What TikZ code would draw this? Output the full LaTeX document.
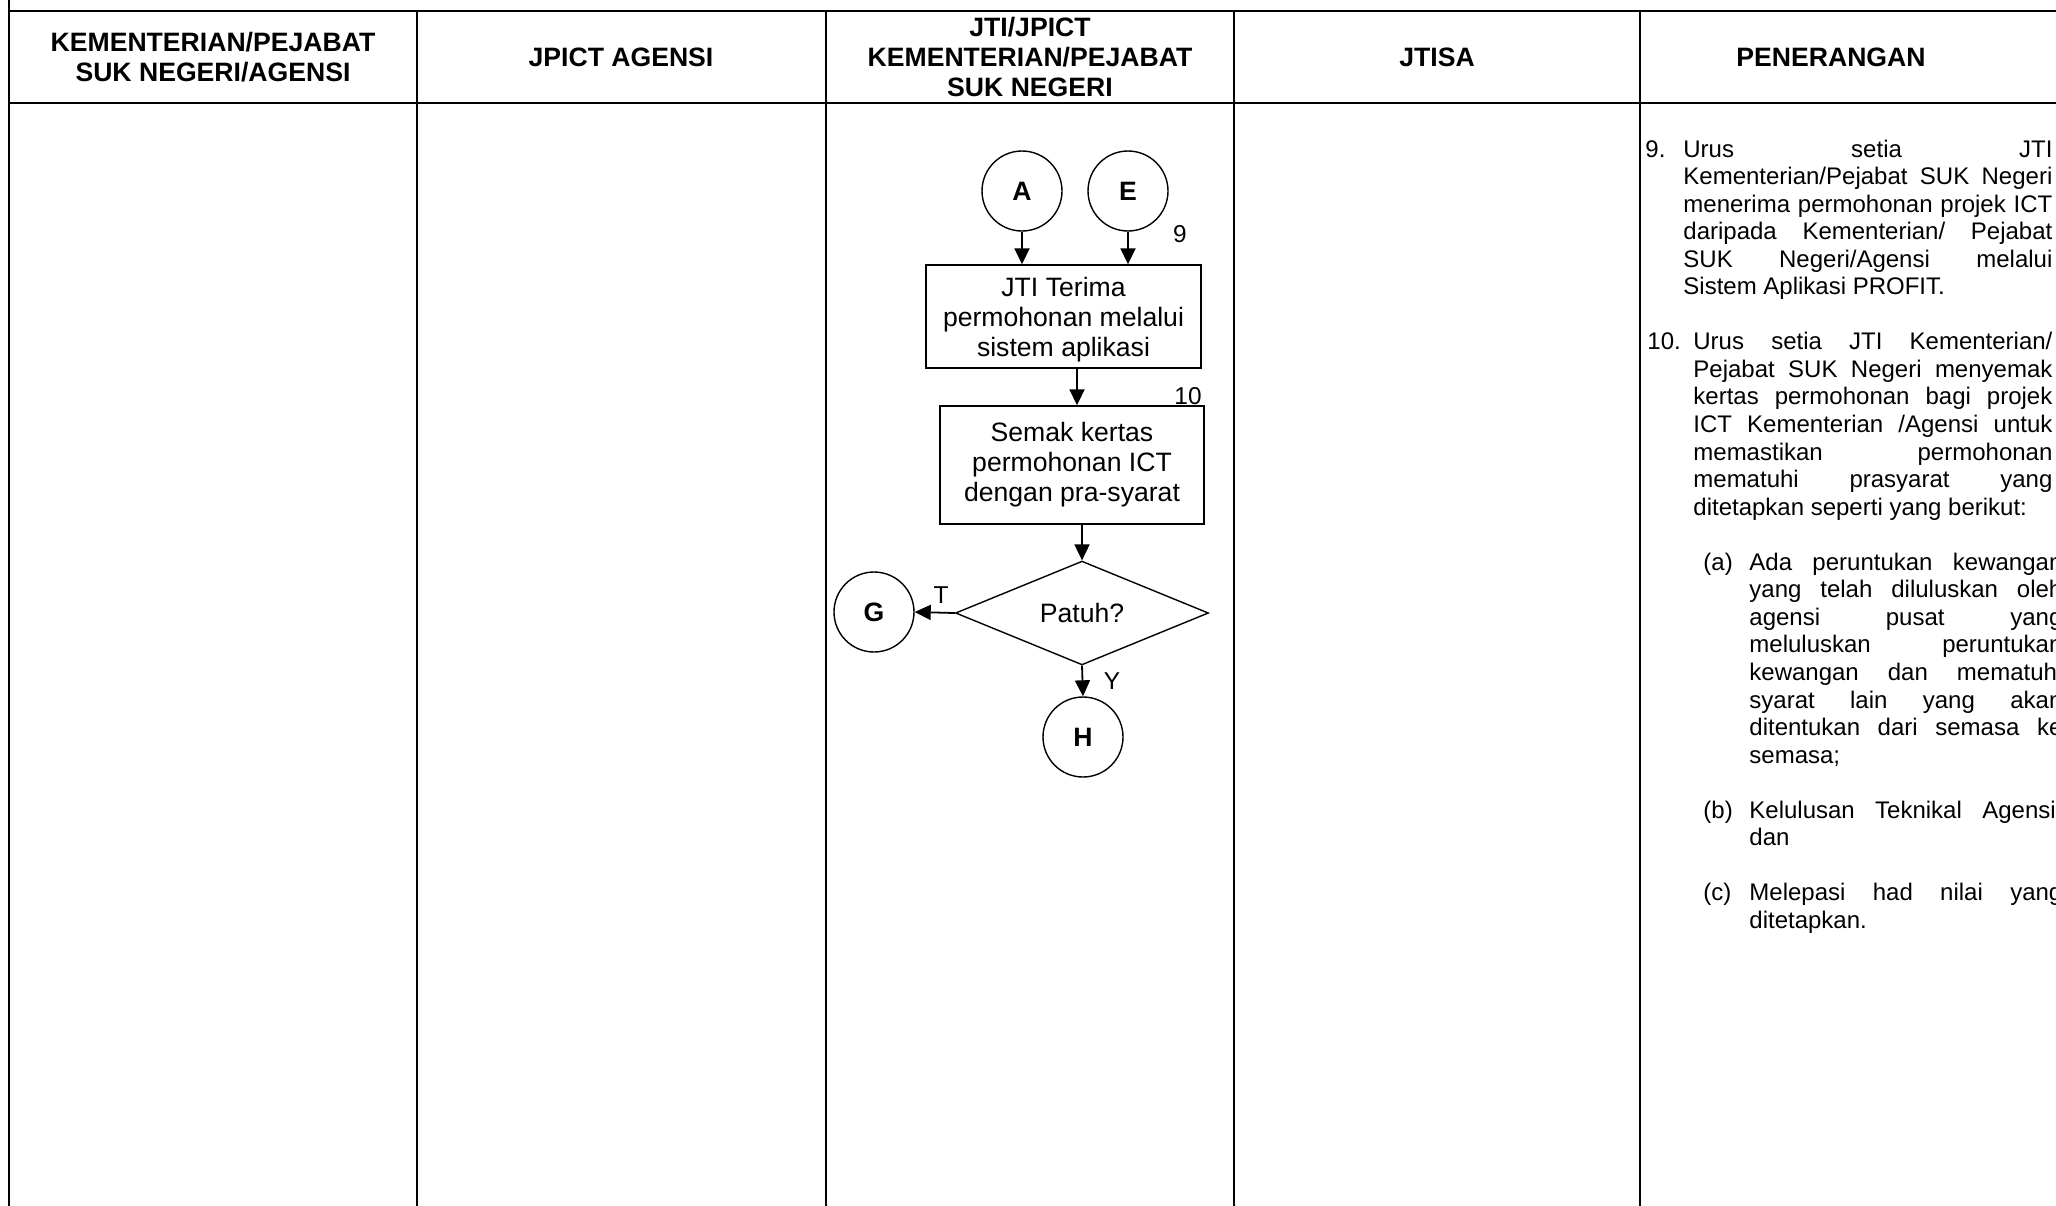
\documentclass[tikz,border=0pt]{standalone}
\usepackage{fontspec}
\setmainfont{Liberation Sans}
\usetikzlibrary{arrows.meta,shapes.geometric}
\newcommand{\wnine}{184.5pt}
\newcommand{\wten}{179.5pt}
\newcommand{\wsub}{156.5pt}
\begin{document}
\begin{tikzpicture}[x=0.5pt,y=-0.5pt,
  hline/.style={line width=1.3pt},
  vline/.style={line width=0.9pt},
  hdr/.style={font=\fontsize{13.3}{15.2}\selectfont\bfseries, align=center, inner sep=0},
  pen/.style={font=\fontsize{12}{13.775}\selectfont, inner sep=0, anchor=base west},
  procbox/.style={draw, line width=0.7pt, font=\fontsize{13.3}{15}\selectfont, align=center, inner sep=0},
  conn/.style={draw, circle, line width=0.7pt, minimum size=40pt, inner sep=0, font=\fontsize{13.3}{15}\selectfont\bfseries},
  dec/.style={diamond, draw, line width=0.7pt, minimum width=126.5pt, minimum height=51pt, inner sep=0, font=\fontsize{13.3}{15}\selectfont},
  lbl/.style={font=\fontsize{12.2}{13}\selectfont, inner sep=0},
  arr/.style={-{Triangle[length=8pt,width=7.5pt]}, line width=0.9pt}]
\useasboundingbox (0,0) rectangle (2056,1205);
\begin{scope}
\clip (0,0) rectangle (2056,1205);
% table lines
\draw[hline] (9,11) -- (2060,11);
\draw[hline] (9,103) -- (2060,103);
\draw[vline] (9,0) -- (9,1210);
\draw[vline] (417,11) -- (417,1210);
\draw[vline] (826,11) -- (826,1210);
\draw[vline] (1234,11) -- (1234,1210);
\draw[vline] (1640,11) -- (1640,1210);
% headers
\node[hdr] (h1) at (213,57) {KEMENTERIAN/PEJABAT\\SUK NEGERI/AGENSI};
\node[hdr] (h2) at (621,57) {JPICT AGENSI};
\node[hdr] (h3) at (1030,57) {JTI/JPICT\\KEMENTERIAN/PEJABAT\\SUK NEGERI};
\node[hdr] (h4) at (1437,57) {JTISA};
\node[hdr] (h5) at (1831,57) {PENERANGAN};
% flowchart
\node[conn] (A) at (1022,191) {A};
\node[conn] (E) at (1128,191) {E};
\node[lbl] (n9) at (1180,234) {9};
\node[procbox, minimum width=137.5pt, minimum height=51.5pt] (b1) at (1063.5,316.5) {\rule{0pt}{13pt}JTI Terima\\permohonan melalui\\sistem aplikasi};
\node[lbl] (n10) at (1188,396) {10};
\node[procbox, minimum width=132pt, minimum height=59pt] (b2) at (1072,465) {Semak kertas\\permohonan ICT\\dengan pra-syarat};
\node[dec] (dia) at (1082,613) {Patuh?};
\node[conn] (G) at (874,612) {G};
\node[conn] (H) at (1083,737) {H};
\node[lbl] (lt) at (941,595) {T};
\node[lbl] (ly) at (1112,681) {Y};
\path ([xshift=6.75pt]b1.south) coordinate (s1);
\draw[arr] (A.south) -- (A.south |- b1.north);
\draw[arr] (E.south) -- (E.south |- b1.north);
\draw[arr] (s1) -- (s1 |- b2.north);
\draw[arr] (dia.north |- b2.south) -- (dia.north);
\draw[arr] (dia.west) -- (G.east);
\draw[arr] (dia.south) -- (H.north);
% penerangan item 9
\node[pen] (p9n) at (1645,157) {9.};
\node[pen] (p9a) at (1683,157) {\makebox[\wnine][s]{Urus setia JTI}};
\node[pen] (p9b) at (1683,184.55) {\makebox[\wnine][s]{Kementerian/Pejabat SUK Negeri}};
\node[pen] (p9c) at (1683,212.1) {\makebox[\wnine][s]{menerima permohonan projek ICT}};
\node[pen] (p9d) at (1683,239.65) {\makebox[\wnine][s]{daripada Kementerian/ Pejabat}};
\node[pen] (p9e) at (1683,267.2) {\makebox[\wnine][s]{SUK Negeri/Agensi melalui}};
\node[pen] (p9f) at (1683,294.75) {Sistem Aplikasi PROFIT.};
% item 10
\node[pen] (p10n) at (1647,349.85) {10.};
\node[pen] (p10a) at (1693,349.85) {\makebox[\wten][s]{Urus setia JTI Kementerian/}};
\node[pen] (p10b) at (1693,377.4) {\makebox[\wten][s]{Pejabat SUK Negeri menyemak}};
\node[pen] (p10c) at (1693,404.95) {\makebox[\wten][s]{kertas permohonan bagi projek}};
\node[pen] (p10d) at (1693,432.5) {\makebox[\wten][s]{ICT Kementerian /Agensi untuk}};
\node[pen] (p10e) at (1693,460.05) {\makebox[\wten][s]{memastikan permohonan}};
\node[pen] (p10f) at (1693,487.6) {\makebox[\wten][s]{mematuhi prasyarat yang}};
\node[pen] (p10g) at (1693,515.15) {ditetapkan seperti yang berikut:};
% (a)
\node[pen] (pan) at (1703,570.25) {(a)};
\node[pen] (pa1) at (1749,570.25) {\makebox[\wsub][s]{Ada peruntukan kewangan}};
\node[pen] (pa2) at (1749,597.8) {\makebox[\wsub][s]{yang telah diluluskan oleh}};
\node[pen] (pa3) at (1749,625.35) {\makebox[\wsub][s]{agensi pusat yang}};
\node[pen] (pa4) at (1749,652.9) {\makebox[\wsub][s]{meluluskan peruntukan}};
\node[pen] (pa5) at (1749,680.45) {\makebox[\wsub][s]{kewangan dan mematuhi}};
\node[pen] (pa6) at (1749,708) {\makebox[\wsub][s]{syarat lain yang akan}};
\node[pen] (pa7) at (1749,735.55) {\makebox[\wsub][s]{ditentukan dari semasa ke}};
\node[pen] (pa8) at (1749,763.1) {semasa;};
% (b)
\node[pen] (pbn) at (1703,818.2) {(b)};
\node[pen] (pb1) at (1749,818.2) {\makebox[\wsub][s]{Kelulusan Teknikal Agensi;}};
\node[pen] (pb2) at (1749,845.75) {dan};
% (c)
\node[pen] (pcn) at (1703,900.85) {(c)};
\node[pen] (pc1) at (1749,900.85) {\makebox[\wsub][s]{Melepasi had nilai yang}};
\node[pen] (pc2) at (1749,928.4) {ditetapkan.};
\end{scope}
\end{tikzpicture}
\end{document}
